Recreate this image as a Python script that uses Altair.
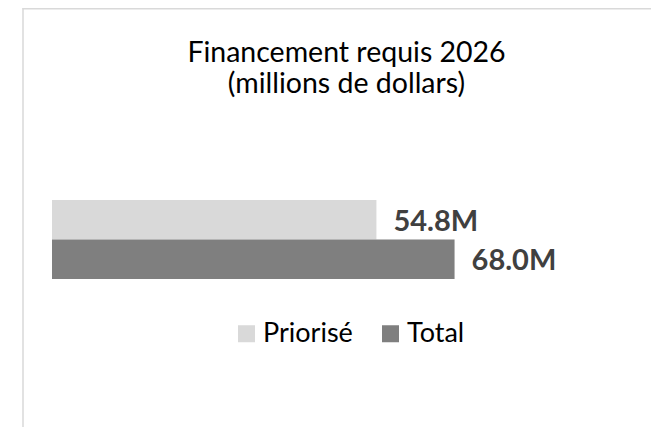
import altair as alt
import pandas as pd

categories = ["Priorisé", "Total"]
values = [54.8, 68.0]
labels = ["54.8M", "68.0M"]
colors = ["#D9D9D9", "#7F7F7F"]
title_text = "Financement requis 2026\n(millions de dollars)"

df = pd.DataFrame({"cat": categories, "val": values, "lab": labels})

FONT = "Lato"
W, H = 643, 419

xs = alt.Scale(domain=[0, 100], range=[44, 636])
ys = alt.Scale(domain=categories, range=[192, 271], paddingInner=0, paddingOuter=0)

base = alt.Chart(df)

bars = base.mark_bar().encode(
    x=alt.X("val:Q", scale=xs, axis=None),
    y=alt.Y("cat:N", scale=ys, axis=None),
    color=alt.Color(
        "cat:N",
        scale=alt.Scale(domain=categories, range=colors),
        legend=alt.Legend(
            title=None,
            orient="none",
            legendX=225,
            legendY=312,
            direction="horizontal",
            symbolType="square",
            symbolSize=289,
            symbolStrokeWidth=0,
            labelFont=FONT,
            labelFontSize=27,
            labelFontWeight="normal",
            labelColor="#000000",
            labelOffset=3,
            columnPadding=24,
            padding=0,
        ),
    ),
)

text = base.mark_text(
    align="left", baseline="alphabetic", dx=17, dy=11,
    font=FONT, fontSize=29, fontWeight="bold", color="#404040"
).encode(
    x=alt.X("val:Q", scale=xs, axis=None),
    y=alt.Y("cat:N", scale=ys, axis=None),
    text="lab:N",
)

title = alt.Chart(pd.DataFrame({"t": [title_text]})).mark_text(
    align="center", baseline="alphabetic", lineBreak="\n", lineHeight=31,
    font=FONT, fontSize=28.5, color="#000000"
).encode(x=alt.value(338.5), y=alt.value(54), text="t:N")

border_top = alt.Chart(pd.DataFrame({"a": [0]})).mark_rule(
    color="#D9D9D9", strokeWidth=1.5
).encode(x=alt.value(14.5), x2=alt.value(W), y=alt.value(0.75))

border_left = alt.Chart(pd.DataFrame({"a": [0]})).mark_rule(
    color="#D9D9D9", strokeWidth=1.5
).encode(x=alt.value(15), y=alt.value(0), y2=alt.value(H))

chart = alt.layer(border_top, border_left, bars, text, title).properties(
    width=W, height=H,
    autosize=alt.AutoSizeParams(type="none"),
    padding=0,
    background="white",
).configure_view(stroke=None)

chart.save("out.html", embed_options={"renderer": "svg", "actions": False})
